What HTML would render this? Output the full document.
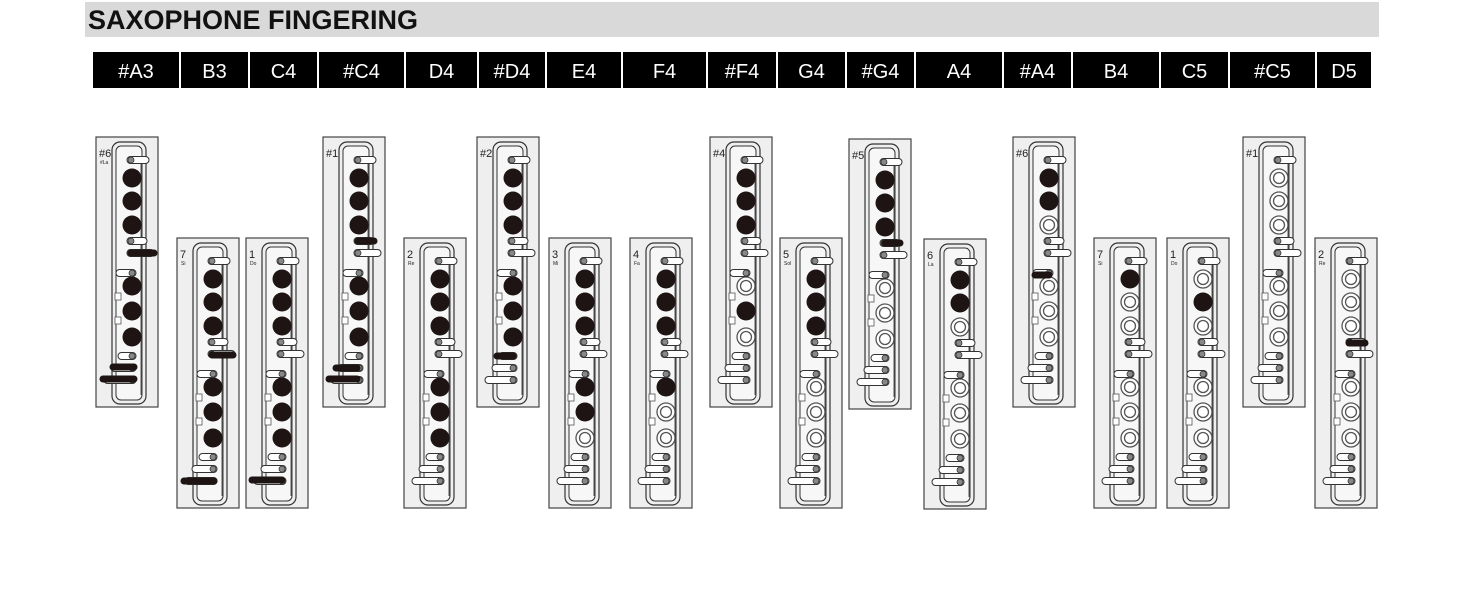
<!DOCTYPE html>
<html><head><meta charset="utf-8"><style>
body{margin:0;background:#fff;width:1464px;height:600px;overflow:hidden;font-family:"Liberation Sans",sans-serif}
</style></head><body>
<svg id="s" width="1464" height="600" xmlns="http://www.w3.org/2000/svg" font-family="Liberation Sans, sans-serif">
<rect x="85" y="2" width="1294" height="35" fill="#d9d9d9"/>
<text x="88" y="29" font-size="27" font-weight="bold" fill="#111">SAXOPHONE FINGERING</text>
<rect x="93" y="52" width="1278" height="36" fill="#000"/>
</svg>
<script>
const s=document.getElementById('s');let h='';
const cols=[["#A3",93,179],["B3",181,248],["C4",250,317],["#C4",319,404],["D4",406,477],["#D4",479,545],["E4",547,621],["F4",623,706],["#F4",708,776],["G4",778,845],["#G4",847,914],["A4",916,1002],["#A4",1004,1071],["B4",1073,1159],["C5",1161,1228],["#C5",1230,1315],["D5",1317,1371]];
cols.forEach((c,i)=>{if(i>0)h+=`<rect x="${c[1]-2}" y="52" width="2" height="36" fill="#fff"/>`;h+=`<text x="${(c[1]+c[2])/2}" y="78" font-size="20" fill="#fff" text-anchor="middle">${c[0]}</text>`;});
// charts: x, top, label, sub, holes(6: 1 filled,0 open)
const ch=[[96,137,"#6","#La","111111"],[177,238,"7","Si","111111"],[246,238,"1","Do","111111"],[323,137,"#1","","111111"],[404,238,"2","Re","111111"],[477,137,"#2","","111111"],[549,238,"3","Mi","111110"],[630,238,"4","Fa","111100"],[710,137,"#4","","111010"],[780,238,"5","Sol","111000"],[849,139,"#5","","111000"],[924,239,"6","La","110000"],[1013,137,"#6","","110000"],[1094,238,"7","Si","100000"],[1167,238,"1","Do","010000"],[1243,137,"#1","","000000"],[1315,238,"2","Re","000000"]];
function key(x,y,w,left){ // pill with screw circle
 let cx=left?x+w-4:x+4;
 return `<rect x="${x}" y="${y-3.5}" width="${w}" height="7" rx="3.5" fill="#fff" stroke="#333" stroke-width="1"/><circle cx="${cx}" cy="${y}" r="3" fill="#888" stroke="#333" stroke-width=".8"/>`;}
ch.forEach(c=>{const [x,t,l,sub,p]=c;
 h+=`<rect x="${x}" y="${t}" width="62" height="270" fill="#efefef" stroke="#444" stroke-width="1.2"/>`;
 h+=`<rect x="${x+16}" y="${t+5}" width="34" height="262" rx="8" fill="none" stroke="#333" stroke-width="1.2"/>`;
 h+=`<rect x="${x+20}" y="${t+9}" width="26" height="254" rx="5" fill="#f7f7f7" stroke="#333" stroke-width="1"/>`;
 h+=`<line x1="${x+45}" y1="${t+20}" x2="${x+45}" y2="${t+258}" stroke="#555" stroke-width="1"/>`;
 h+=`<text x="${x+3}" y="${t+20}" font-size="11" fill="#222">${l}</text>`;
 if(sub)h+=`<text x="${x+4}" y="${t+27}" font-size="5" fill="#222">${sub}</text>`;
 const ys=[41,64,88,149,174,200];const cx=x+36;
 ys.forEach((yy,i)=>{if(p[i]=='1')h+=`<circle cx="${cx}" cy="${t+yy}" r="9.5" fill="#1e1414"/>`;else h+=`<circle cx="${cx}" cy="${t+yy}" r="9" fill="#fff" stroke="#555" stroke-width="1.3"/><circle cx="${cx}" cy="${t+yy}" r="5.5" fill="#fff" stroke="#555" stroke-width="1.3"/>`;});
 h+=`<rect x="${x+19}" y="${t+156}" width="6" height="7" fill="#fff" stroke="#555" stroke-width=".8"/><rect x="${x+19}" y="${t+180}" width="6" height="7" fill="#fff" stroke="#555" stroke-width=".8"/>`;
 h+=key(x+31,t+23,22,false)+key(x+31,t+104,20,false)+key(x+31,t+116,27,false);
 h+=key(x+20,t+136,20,true)+key(x+22,t+219,18,true)+key(x+15,t+231,25,true)+key(x+8,t+243,32,true);
});
const bars=[[128,157,253],[110,137,367],[100,137,379],[209,236,355],[181,217,481],[249,285,480],[355,377,241],[333,360,368],[326,360,379],[494,516,356],[882,903,243],[1032,1052,275],[1346,1368,343]];
bars.forEach(b=>h+=`<line x1="${b[0]+3}" y1="${b[2]}" x2="${b[1]-3}" y2="${b[2]}" stroke="#1e1414" stroke-width="7" stroke-linecap="round"/>`);
s.insertAdjacentHTML('beforeend',h);
</script>
</body></html>
